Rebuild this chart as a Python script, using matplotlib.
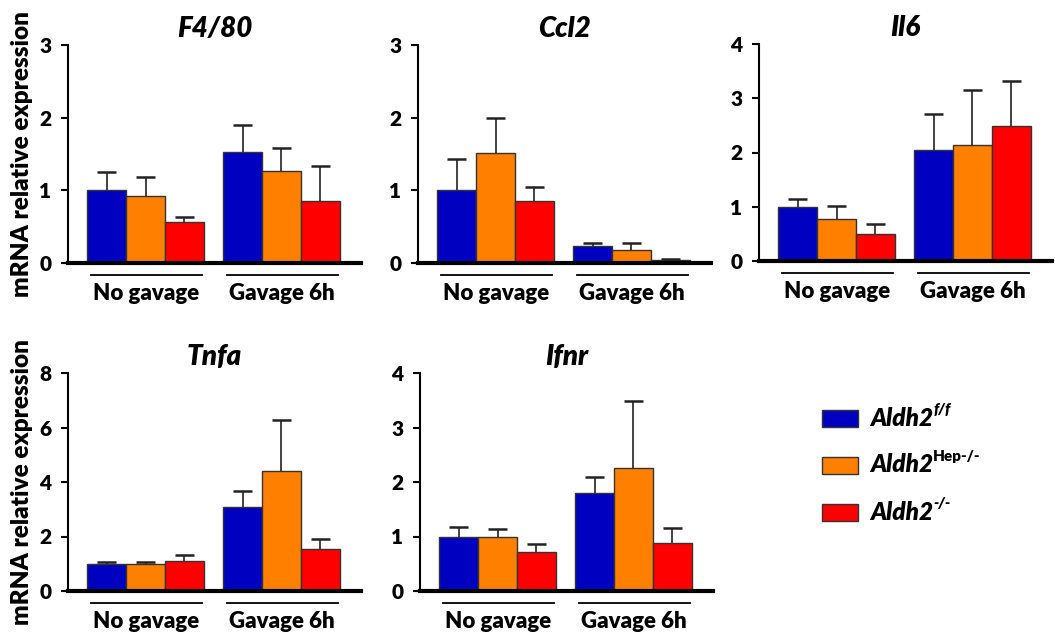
import os
import matplotlib
matplotlib.use("Agg")
import matplotlib.pyplot as plt
import matplotlib.transforms as mtransforms
from matplotlib import font_manager
from matplotlib.font_manager import FontProperties
from matplotlib.patches import Rectangle


def find_bold_files():
    """Return (bold, bold italic) font files of the first family that has both."""
    files = {os.path.basename(f.fname): f.fname for f in font_manager.fontManager.ttflist}
    for b_name, bi_name in [("Lato-ExtraBold.ttf", "Lato-ExtraBoldItalic.ttf"),
                            ("Lato-Bold.ttf", "Lato-BoldItalic.ttf"),
                            ("OpenSans-Bold.ttf", "OpenSans-BoldItalic.ttf")]:
        if b_name in files and bi_name in files:
            return files[b_name], files[bi_name]
    return None, None


BOLD, BOLD_IT = find_bold_files()


def fp(size, italic=False):
    f = BOLD_IT if italic else BOLD
    if f is None:
        return FontProperties(family="DejaVu Sans", weight="bold",
                              style="italic" if italic else "normal", size=size)
    return FontProperties(fname=f, size=size)


genes = ["F4/80", "Ccl2", "Il6", "Tnfa", "Ifnr"]
groups = ["No gavage", "Gavage 6h"]
genotypes = ["Aldh2", "Aldh2", "Aldh2"]
genotype_sup = ["f/f", "Hep-/-", "-/-"]
colors = ["#0000C0", "#FF8000", "#FF0000"]

# means per gene: [genotype][group]
means = {
    "F4/80": [[1.00, 1.53], [0.92, 1.27], [0.56, 0.85]],
    "Ccl2": [[1.00, 0.23], [1.52, 0.18], [0.86, 0.04]],
    "Il6": [[1.00, 2.04], [0.77, 2.14], [0.50, 2.48]],
    "Tnfa": [[0.98, 3.07], [0.98, 4.39], [1.10, 1.54]],
    "Ifnr": [[1.00, 1.80], [1.00, 2.25], [0.72, 0.88]],
}
# top of error bar (mean + SEM)
err_top = {
    "F4/80": [[1.25, 1.90], [1.18, 1.58], [0.63, 1.33]],
    "Ccl2": [[1.43, 0.28], [2.00, 0.28], [1.04, 0.05]],
    "Il6": [[1.14, 2.71], [1.01, 3.16], [0.68, 3.32]],
    "Tnfa": [[1.08, 3.68], [1.08, 6.26], [1.33, 1.92]],
    "Ifnr": [[1.17, 2.10], [1.13, 3.49], [0.87, 1.16]],
}
y_max = {"F4/80": 3, "Ccl2": 3, "Il6": 4, "Tnfa": 8, "Ifnr": 4}
y_step = {"F4/80": 1, "Ccl2": 1, "Il6": 1, "Tnfa": 2, "Ifnr": 1}

W, H = 1055, 640
# axes boxes in pixels: left, top, width, height
boxes = {
    "F4/80": (68, 45, 293, 218),
    "Ccl2": (418, 45, 293, 218),
    "Il6": (759, 44, 293, 217),
    "Tnfa": (68, 373, 293, 218),
    "Ifnr": (420, 373, 293, 218),
}

fig = plt.figure(figsize=(W / 100, H / 100), dpi=100)

group_start = [0.5, 4.0]
bar_w = 1.0
cap_half = 0.24

for gene in genes:
    l, t, w, h = boxes[gene]
    ax = fig.add_axes([l / W, 1 - (t + h) / H, w / W, h / H])
    for gi, g0 in enumerate(group_start):
        for k in range(3):
            x = g0 + bar_w * (k + 0.5)
            m = means[gene][k][gi]
            top = err_top[gene][k][gi]
            ax.bar(x, m, width=bar_w, color=colors[k], edgecolor="#333333",
                   linewidth=1.0, zorder=2)
            ax.vlines(x, m, top, color="#222222", linewidth=1.2, zorder=3)
            ax.hlines(top, x - cap_half, x + cap_half, color="#222222",
                      linewidth=1.8, zorder=3)
    ax.set_xlim(0, 7.55)
    ax.set_ylim(0, y_max[gene])
    ticks = list(range(0, y_max[gene] + 1, y_step[gene]))
    ax.set_yticks(ticks)
    ax.set_yticklabels([str(v) for v in ticks], fontproperties=fp(15))
    ax.set_xticks([])
    for s in ["top", "right"]:
        ax.spines[s].set_visible(False)
    ax.spines["left"].set_linewidth(1.5)
    ax.spines["bottom"].set_linewidth(3.0)
    ax.tick_params(axis="y", direction="out", length=5, width=1.5, pad=7)
    ax.set_title(gene, fontproperties=fp(20, italic=True), pad=6)

    trans = mtransforms.blended_transform_factory(ax.transData, ax.transAxes)
    for gi, g0 in enumerate(group_start):
        ax.plot([g0 + 0.1, g0 + 3 * bar_w - 0.05], [-12 / h, -12 / h], color="black",
                linewidth=1.3, transform=trans, clip_on=False)
        ax.text(g0 + 1.5 * bar_w, -31 / h, groups[gi], transform=trans, ha="center",
                va="center", fontproperties=fp(16))

    if gene in ("F4/80", "Tnfa"):
        fig.text(22 / W, 1 - (t + h / 2) / H, "mRNA relative expression",
                 rotation=90, ha="center", va="center", fontproperties=fp(17.5))

# legend
leg_rows = [418, 465, 512]
for k in range(3):
    yc = 1 - leg_rows[k] / H
    fig.patches.append(Rectangle((822 / W, yc - 8.5 / H), 36 / W, 17 / H,
                                 transform=fig.transFigure, facecolor=colors[k],
                                 edgecolor="#333333", linewidth=1.0))
    txt = fig.text(870 / W, yc, genotypes[k], ha="left", va="center",
                   fontproperties=fp(17.5, italic=True))
    plt.annotate(genotype_sup[k], xy=(1.0, 0.6), xycoords=txt, ha="left",
                 va="bottom", fontproperties=fp(11, italic=(k != 1)),
                 annotation_clip=False)

fig.savefig("out.png", dpi=100)
